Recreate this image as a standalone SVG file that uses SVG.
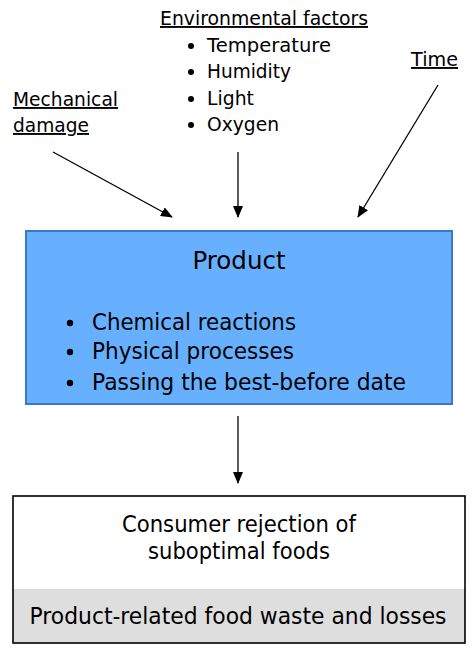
<svg xmlns="http://www.w3.org/2000/svg" width="474" height="653" viewBox="0 0 474 653">
<style>
text{font-family:"DejaVu Sans","Liberation Sans",sans-serif;fill:#000}
.u{text-decoration:underline}
.c{stroke:#000;stroke-width:1.3;fill:none}
</style>
<defs>
<marker id="ah" viewBox="0 0 12 10" refX="11" refY="5" markerWidth="12" markerHeight="10" markerUnits="userSpaceOnUse" orient="auto">
<path d="M0,0 L12,5 L0,10 z" fill="#000"/>
</marker>
</defs>
<rect width="474" height="653" fill="#fff"/>
<g id="env">
<text class="u" x="160" y="25" font-size="19" textLength="208" lengthAdjust="spacingAndGlyphs">Environmental factors</text>
<circle cx="191" cy="46" r="3"/><text x="207" y="52" font-size="19" textLength="124" lengthAdjust="spacingAndGlyphs">Temperature</text>
<circle cx="191" cy="72" r="3"/><text x="207" y="78" font-size="19" textLength="84" lengthAdjust="spacingAndGlyphs">Humidity</text>
<circle cx="191" cy="99" r="3"/><text x="207" y="105" font-size="19" textLength="47" lengthAdjust="spacingAndGlyphs">Light</text>
<circle cx="191" cy="125" r="3"/><text x="207" y="131" font-size="19" textLength="72" lengthAdjust="spacingAndGlyphs">Oxygen</text>
</g>
<g id="time">
<text class="u" x="411" y="66" font-size="19" textLength="47" lengthAdjust="spacingAndGlyphs">Time</text>
</g>
<g id="mech">
<text class="u" x="13" y="106" font-size="19" textLength="105" lengthAdjust="spacingAndGlyphs">Mechanical</text>
<text class="u" x="13" y="132" font-size="19" textLength="76" lengthAdjust="spacingAndGlyphs">damage</text>
</g>
<g id="product">
<rect x="26" y="231" width="426" height="173" fill="#66b0ff" stroke="#3a78c8" stroke-width="2"/>
<text x="239" y="269" font-size="24" text-anchor="middle" textLength="93" lengthAdjust="spacingAndGlyphs">Product</text>
<circle cx="70" cy="323" r="3.2"/><text x="92" y="330" font-size="23" textLength="204" lengthAdjust="spacingAndGlyphs">Chemical reactions</text>
<circle cx="70" cy="352" r="3.2"/><text x="92" y="359" font-size="23" textLength="202" lengthAdjust="spacingAndGlyphs">Physical processes</text>
<circle cx="70" cy="383" r="3.2"/><text x="92" y="390" font-size="23" textLength="314" lengthAdjust="spacingAndGlyphs">Passing the best-before date</text>
</g>
<g id="result">
<rect x="13" y="496" width="452" height="147" fill="#fff"/>
<rect x="13" y="589" width="452" height="54" fill="#dedede"/>
<rect x="13" y="496" width="452" height="147" fill="none" stroke="#000" stroke-width="1.6"/>
<text x="239" y="532" font-size="23" text-anchor="middle" textLength="234" lengthAdjust="spacingAndGlyphs">Consumer rejection of</text>
<text x="239" y="559" font-size="23" text-anchor="middle" textLength="182" lengthAdjust="spacingAndGlyphs">suboptimal foods</text>
<text x="238" y="624" font-size="23" text-anchor="middle" textLength="417" lengthAdjust="spacingAndGlyphs">Product-related food waste and losses</text>
</g>
<g id="connectors">
<line class="c" x1="53" y1="152" x2="172" y2="217" marker-end="url(#ah)"/>
<line class="c" x1="238" y1="152" x2="238" y2="217" marker-end="url(#ah)"/>
<line class="c" x1="438" y1="85" x2="358" y2="217" marker-end="url(#ah)"/>
<line class="c" x1="238" y1="416" x2="238" y2="483" marker-end="url(#ah)"/>
</g>
</svg>
